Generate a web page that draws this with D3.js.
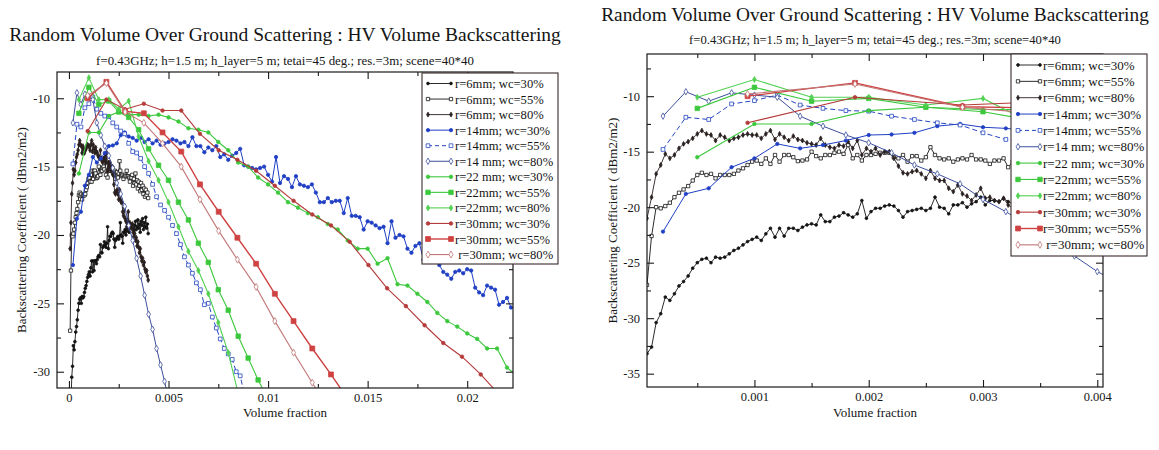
<!DOCTYPE html>
<html><head><meta charset="utf-8">
<script src="https://cdn.jsdelivr.net/npm/d3@7"></script>
<style>
body{margin:0;background:#fff}
text{font-family:"Liberation Serif","Times New Roman",serif;fill:#151515}
</style>
</head><body>
<svg id="c" width="1159" height="450"></svg>
<script>
// ---------------- DATA ----------------
const titleText = "Random Volume Over Ground Scattering : HV Volume Backscattering";
const subtitleText = "f=0.43GHz; h=1.5 m; h_layer=5 m; tetai=45 deg.; res.=3m; scene=40*40";
const xTitle = "Volume fraction";
const yTitle = "Backscattering Coefficient ( dBm2/m2)";
const legendLabels = ["r=6mm; wc=30%","r=6mm; wc=55%","r=6mm; wc=80%","r=14mm; wc=30%","r=14mm; wc=55%","r=14 mm; wc=80%","r=22 mm; wc=30%","r=22mm; wc=55%","r=22mm; wc=80%","r=30mm; wc=30%","r=30mm; wc=55%","\u00a0r=30mm; wc=80%"];

// sampling grids (start, step) of volume fraction per radius
const r6Start = 0.00006, r6Step = 0.00004;
const r14Start = 0.0002, r14Step = 0.0002;
const r22Start = 0.0005, r22Step = 0.0005;
const r30Start = 0.00094, r30Step = 0.00094;

const r6wc30 = [-33.2,-32.6,-30.4,-29.6,-28.1,-28.4,-27.8,-27.1,-26.7,-26.2,-25.5,-25.0,-24.7,-24.6,-25.0,-24.5,-24.6,-24.5,-24.2,-23.9,-23.7,-23.4,-23.1,-22.9,-22.7,-23.0,-22.4,-21.9,-22.7,-21.9,-22.6,-21.9,-21.9,-22.1,-21.8,-21.6,-21.5,-21.6,-20.7,-21.3,-21.3,-20.9,-20.8,-20.5,-20.7,-20.9,-20.6,-19.4,-21.0,-20.4,-20.1,-20.1,-19.9,-19.8,-19.9,-20.3,-20.9,-20.4,-20.3,-20.2,-20.1,-20.3,-20.1,-19.1,-20.0,-20.1,-20.6,-19.8,-19.8,-19.6,-20.0,-19.7,-19.5,-19.1,-19.8,-19.4,-19.4,-19.5,-19.2,-19.5,-19.7,-19.3,-19.0,-19.6,-19.4,-18.9,-19.5,-19.2,-19.8,-19.0,-19.3,-18.8,-19.6,-19.1,-19.4,-18.7,-19.5,-19.2,-19.9];
const r6wc55 = [-27.0,-22.6,-20.0,-20.1,-19.9,-19.6,-19.1,-18.7,-18.4,-18.1,-17.6,-17.1,-16.9,-17.1,-17.0,-17.4,-17.1,-17.1,-17.1,-17.0,-16.7,-16.5,-16.2,-15.9,-15.8,-16.1,-15.6,-16.1,-15.3,-15.9,-15.3,-15.3,-15.5,-15.85,-15.8,-15.7,-15.0,-15.4,-15.6,-15.3,-15.3,-15.1,-15.0,-15.2,-14.4,-15.6,-15.3,-15.8,-15.3,-15.3,-15.2,-15.1,-15.1,-15.1,-15.5,-15.6,-15.3,-15.9,-15.4,-15.4,-15.8,-15.5,-14.6,-15.3,-15.6,-15.7,-15.6,-15.9,-15.7,-15.6,-15.7,-15.3,-15.7,-15.7,-15.8,-16.1,-15.8,-15.8,-15.6,-16.4,-15.9,-16.2,-15.5,-16.3,-16.0,-16.6,-16.1,-16.4,-16.8,-16.2,-16.7,-16.4,-17.0,-16.6,-17.2,-16.7,-17.1,-16.9,-17.3];
const r6wc80 = [-21.0,-19.1,-17.0,-16.2,-15.2,-15.6,-15.3,-14.7,-14.3,-14.1,-13.8,-13.4,-13.1,-13.4,-13.5,-14.0,-13.5,-13.7,-14.0,-13.8,-13.7,-13.5,-13.4,-13.5,-13.5,-13.8,-13.4,-13.1,-13.9,-13.4,-13.7,-14.0,-13.6,-13.9,-14.0,-14.2,-14.3,-14.4,-13.8,-14.4,-14.6,-14.7,-14.4,-14.5,-14.1,-14.7,-14.0,-15.3,-14.7,-15.0,-14.7,-15.3,-15.0,-15.0,-15.6,-16.3,-16.9,-17.0,-16.8,-16.7,-17.0,-17.4,-16.7,-17.4,-17.6,-17.6,-18.3,-18.6,-18.0,-18.8,-19.0,-19.4,-18.9,-18.3,-19.2,-19.1,-19.4,-19.5,-19.2,-19.8,-20.1,-19.9,-20.4,-20.2,-20.8,-20.5,-20.9,-21.3,-21.0,-21.6,-21.9,-21.7,-22.2,-22.0,-22.5,-22.7,-22.6,-23.0,-23.3];

const r14wc30 = [-22.2,-18.8,-18.3,-16.4,-15.6,-14.3,-14.7,-14.4,-14.0,-13.5,-13.45,-13.3,-12.7,-12.5,-12.8,-12.9,-13.1,-12.9,-13.2,-13.0,-13.3,-13.1,-13.4,-13.3,-13.2,-13.0,-13.1,-13.3,-13.2,-13.5,-12.85,-13.5,-13.5,-13.95,-13.6,-13.8,-13.5,-14.3,-14.1,-14.5,-14.2,-14.0,-13.7,-14.9,-15.0,-15.1,-15.2,-15.1,-15.0,-15.6,-16.1,-14.3,-16.2,-15.7,-15.9,-16.5,-15.7,-16.3,-16.4,-16.5,-16.3,-16.9,-17.6,-17.6,-17.3,-17.6,-17.5,-17.5,-18.4,-17.3,-18.6,-18.6,-18.7,-19.6,-19.0,-19.1,-19.3,-19.5,-19.4,-20.6,-19.0,-20.2,-20.0,-20.1,-21.0,-21.3,-20.8,-20.6,-21.8,-21.1,-21.4,-21.9,-22.2,-22.7,-22.9,-23.2,-22.7,-22.6,-22.8,-22.5,-22.6,-23.85,-24.2,-24.4,-23.7,-23.85,-24.0,-25.1,-24.9,-24.6,-25.3];
const r14wc55 = [-14.8,-11.9,-12.1,-10.7,-10.4,-9.9,-10.8,-11.1,-11.3,-11.35,-11.8,-12.1,-12.4,-12.6,-13.3,-13.9,-14.0,-14.4,-15.0,-15.5,-16.3,-17.2,-17.8,-18.2,-18.7,-19.3,-19.9,-20.7,-21.6,-22.2,-22.8,-23.5,-24.0,-25.1,-25.0,-26.0,-26.8,-27.6,-28.3,-28.7,-29.1,-30.0,-30.3,-31.6];
const r14wc80 = [-11.8,-9.6,-10.45,-9.7,-9.9,-10.1,-11.8,-12.7,-13.5,-14.2,-15.1,-16.2,-17.0,-17.9,-19.3,-20.4,-21.7,-23.0,-24.4,-25.8,-26.9,-28.3,-29.5,-30.7,-32.0];

const r22wc30 = [-15.5,-12.5,-12.5,-11.3,-11.0,-11.2,-11.2,-11.3,-11.2,-11.4,-11.7,-12.2,-12.3,-12.5,-13.2,-13.8,-14.7,-15.0,-15.8,-16.3,-16.9,-17.6,-18.0,-18.4,-18.7,-19.2,-19.6,-20.4,-21.0,-21.0,-22.1,-21.7,-23.6,-23.7,-24.3,-24.9,-25.7,-26.3,-26.7,-27.2,-27.6,-28.3,-28.3,-29.7,-30.3];
const r22wc55 = [-11.1,-9.2,-10.45,-10.2,-11.0,-11.4,-12.3,-13.7,-14.9,-16.0,-17.6,-18.9,-20.6,-22.0,-24.0,-25.5,-27.4,-29.0,-30.6,-32.0];
const r22wc80 = [-10.1,-8.5,-10.1,-10.1,-10.8,-10.2,-12.8,-14.6,-16.0,-17.6,-19.4,-21.2,-22.6,-24.3,-26.4,-28.6,-31.6];

const r30wc30 = [-12.4,-10.1,-10.8,-10.4,-10.9,-10.9,-12.6,-13.8,-14.5,-15.3,-16.4,-17.5,-18.5,-19.3,-20.5,-22.2,-23.9,-25.2,-26.6,-27.9,-28.9,-30.2,-31.7];
const r30wc55 = [-10.0,-8.8,-10.95,-11.1,-12.5,-13.9,-16.3,-18.3,-20.2,-22.1,-24.3,-26.3,-28.3,-30.2,-32.2];
const r30wc80 = [-9.8,-8.9,-11.0,-11.8,-13.3,-15.0,-17.4,-19.7,-21.8,-23.8,-26.3,-28.6,-30.8,-33.0];

// axis ticks
const leftXMajor = [0,0.005,0.01,0.015,0.02];
const leftXLabels = ["0","0.005","0.01","0.015","0.02"];
const leftXMinor = [0.0025,0.0075,0.0125,0.0175];
const leftYMajor = [-30,-25,-20,-15,-10];
const leftYLabels = ["-30","-25","-20","-15","-10"];
const leftYMinor = [-27.5,-22.5,-17.5,-12.5];
const rightXMajor = [0.001,0.002,0.003,0.004];
const rightXLabels = ["0.001","0.002","0.003","0.004"];
const rightXMinor = [0.0005,0.0015,0.0025,0.0035];
const rightYMajor = [-35,-30,-25,-20,-15,-10];
const rightYLabels = ["-35","-30","-25","-20","-15","-10"];
const rightYMinor = [-32.5,-27.5,-22.5,-17.5,-12.5,-7.5];

// ---------------- STYLE ----------------
const seriesList = [
  {v:r6wc30, s:r6Start, d:r6Step, color:"#141414", m:"circle", size:6, fill:true, w:0.9},
  {v:r6wc55, s:r6Start, d:r6Step, color:"#141414", m:"square", size:11, fill:false, w:0.9},
  {v:r6wc80, s:r6Start, d:r6Step, color:"#2a2020", m:"diamond", size:7, fill:true, w:0.9},
  {v:r14wc30, s:r14Start, d:r14Step, color:"#1f3fc4", m:"circle", size:9, fill:true, w:1},
  {v:r14wc55, s:r14Start, d:r14Step, color:"#2447c0", m:"square", size:14, fill:false, w:1, dash:"5,3"},
  {v:r14wc80, s:r14Start, d:r14Step, color:"#3d4f9c", m:"diamond", size:12, fill:false, w:1},
  {v:r22wc30, s:r22Start, d:r22Step, color:"#3cc83c", m:"circle", size:10, fill:true, w:1.1},
  {v:r22wc55, s:r22Start, d:r22Step, color:"#3cc83c", m:"square", size:20, fill:true, w:1.1},
  {v:r22wc80, s:r22Start, d:r22Step, color:"#52d052", m:"diamond", size:10, fill:true, w:1.1},
  {v:r30wc30, s:r30Start, d:r30Step, color:"#b53a3a", m:"circle", size:10, fill:true, w:1.1},
  {v:r30wc55, s:r30Start, d:r30Step, color:"#cf4242", m:"square", size:24, fill:true, w:1.4},
  {v:r30wc80, s:r30Start, d:r30Step, color:"#c27676", m:"diamond", size:14, fill:false, w:1.1}
];
const symTypes = {circle:d3.symbolCircle, square:d3.symbolSquare, diamond:d3.symbolDiamond};

const svg = d3.select("#c");
svg.append("rect").attr("width",1159).attr("height",450).attr("fill","#fff");

function fitText(sel, target, base){
  const w = sel.node().getComputedTextLength();
  sel.attr("font-size", base*target/w);
}

function drawChart(o, idx){
  const g = svg.append("g");
  const x = d3.scaleLinear().domain(o.xd).range([o.x0,o.x1]);
  const y = d3.scaleLinear().domain(o.yd).range([o.y1,o.y0]);
  const clipId = "clip"+idx;
  g.append("clipPath").attr("id",clipId).append("rect")
    .attr("x",o.x0).attr("y",o.y0).attr("width",o.x1-o.x0).attr("height",o.y1-o.y0);
  const plot = g.append("g").attr("clip-path","url(#"+clipId+")");
  const line = d3.line().x(p=>x(p[0])).y(p=>y(p[1]));
  seriesList.forEach(sr=>{
    const pts = sr.v.map((v,i)=>[sr.s+i*sr.d, v]);
    plot.append("path").datum(pts).attr("d",line).attr("fill","none")
      .attr("stroke",sr.color).attr("stroke-width",sr.w)
      .attr("stroke-dasharray",sr.dash||null);
    const sym = d3.symbol().type(symTypes[sr.m]).size(sr.size);
    plot.append("g").selectAll("path").data(pts).join("path")
      .attr("d",sym).attr("transform",p=>`translate(${x(p[0])},${y(p[1])})`)
      .attr("fill",sr.fill?sr.color:"#fff").attr("stroke",sr.color).attr("stroke-width",0.8);
  });
  // frame
  g.append("rect").attr("x",o.x0).attr("y",o.y0).attr("width",o.x1-o.x0).attr("height",o.y1-o.y0)
    .attr("fill","none").attr("stroke","#1a1a1a").attr("stroke-width",1.2);
  // axes
  const axes = [
    [d3.axisBottom(x).tickValues(o.xMajor).tickFormat((d,i)=>o.xLabels[i]).tickSizeInner(-7).tickSizeOuter(0).tickPadding(5), `translate(0,${o.y1})`, true],
    [d3.axisBottom(x).tickValues(o.xMinor).tickFormat("").tickSizeInner(-4).tickSizeOuter(0), `translate(0,${o.y1})`],
    [d3.axisTop(x).tickValues(o.xMajor).tickFormat("").tickSizeInner(-7).tickSizeOuter(0), `translate(0,${o.y0})`],
    [d3.axisTop(x).tickValues(o.xMinor).tickFormat("").tickSizeInner(-4).tickSizeOuter(0), `translate(0,${o.y0})`],
    [d3.axisLeft(y).tickValues(o.yMajor).tickFormat((d,i)=>o.yLabels[i]).tickSizeInner(-7).tickSizeOuter(0).tickPadding(7), `translate(${o.x0},0)`, true],
    [d3.axisLeft(y).tickValues(o.yMinor).tickFormat("").tickSizeInner(-4).tickSizeOuter(0), `translate(${o.x0},0)`],
    [d3.axisRight(y).tickValues(o.yMajor).tickFormat("").tickSizeInner(-7).tickSizeOuter(0), `translate(${o.x1},0)`],
    [d3.axisRight(y).tickValues(o.yMinor).tickFormat("").tickSizeInner(-4).tickSizeOuter(0), `translate(${o.x1},0)`]
  ];
  axes.forEach(a=>{
    const ag = g.append("g").attr("transform",a[1]).call(a[0]);
    ag.select(".domain").remove();
    ag.selectAll("line").attr("stroke","#1a1a1a").attr("stroke-width",1.1);
    ag.selectAll("text").attr("font-family","Liberation Serif, serif").attr("font-size",12.5).attr("fill","#151515");
  });
  // titles
  const cx = (o.x0+o.x1)/2;
  const t = g.append("text").attr("x",cx).attr("y",o.titleY).attr("text-anchor","middle").attr("font-size",20).text(titleText);
  fitText(t, o.titleW, 20);
  const st = g.append("text").attr("x",cx).attr("y",o.subY).attr("text-anchor","middle").attr("font-size",12).text(subtitleText);
  fitText(st, o.subW, 12);
  g.append("text").attr("x",cx).attr("y",o.xTitleY).attr("text-anchor","middle").attr("font-size",13).text(xTitle);
  g.append("text").attr("transform",`translate(${o.yTitleX},${(o.y0+o.y1)/2}) rotate(-90)`)
    .attr("text-anchor","middle").attr("font-size",13).text(yTitle);
  // legend
  const L = o.legend;
  g.append("rect").attr("x",L.x0).attr("y",L.y0).attr("width",L.x1-L.x0).attr("height",L.y1-L.y0)
    .attr("fill","#fff").attr("stroke","#3a2a2a").attr("stroke-width",1.1);
  seriesList.forEach((sr,i)=>{
    const yy = L.first + i*L.gap;
    g.append("line").attr("x1",L.lx0).attr("x2",L.lx1).attr("y1",yy).attr("y2",yy)
      .attr("stroke",sr.color).attr("stroke-width",sr.w).attr("stroke-dasharray",sr.dash?"4,3":null);
    const sym = d3.symbol().type(symTypes[sr.m]).size(sr.size);
    [L.lx0,L.lx1].forEach(px=>{
      g.append("path").attr("d",sym).attr("transform",`translate(${px},${yy})`)
        .attr("fill",sr.fill?sr.color:"#fff").attr("stroke",sr.color).attr("stroke-width",0.8);
    });
    g.append("text").attr("x",L.tx).attr("y",yy+4.5).attr("font-size",L.fs).text(legendLabels[i]);
  });
}

drawChart({
  x0:57, x1:513, y0:72, y1:388, xd:[-0.0006,0.0223], yd:[-31.19,-8.08],
  xMajor:leftXMajor, xLabels:leftXLabels, xMinor:leftXMinor,
  yMajor:leftYMajor, yLabels:leftYLabels, yMinor:leftYMinor,
  titleY:41, titleW:552, subY:65, subW:378, xTitleY:417, yTitleX:26,
  legend:{x0:422,x1:558,y0:73,y1:264,first:83.5,gap:15.55,lx0:428,lx1:451,tx:455,fs:12.6}
},0);

drawChart({
  x0:647, x1:1103, y0:54, y1:387, xd:[0.00006,0.00405], yd:[-36.2,-6.2],
  xMajor:rightXMajor, xLabels:rightXLabels, xMinor:rightXMinor,
  yMajor:rightYMajor, yLabels:rightYLabels, yMinor:rightYMinor,
  titleY:21, titleW:548, subY:44, subW:372, xTitleY:417, yTitleX:617,
  legend:{x0:1011,x1:1147,y0:54,y1:256,first:65,gap:16.35,lx0:1018,lx1:1040,tx:1043,fs:13}
},1);
</script>
</body></html>
